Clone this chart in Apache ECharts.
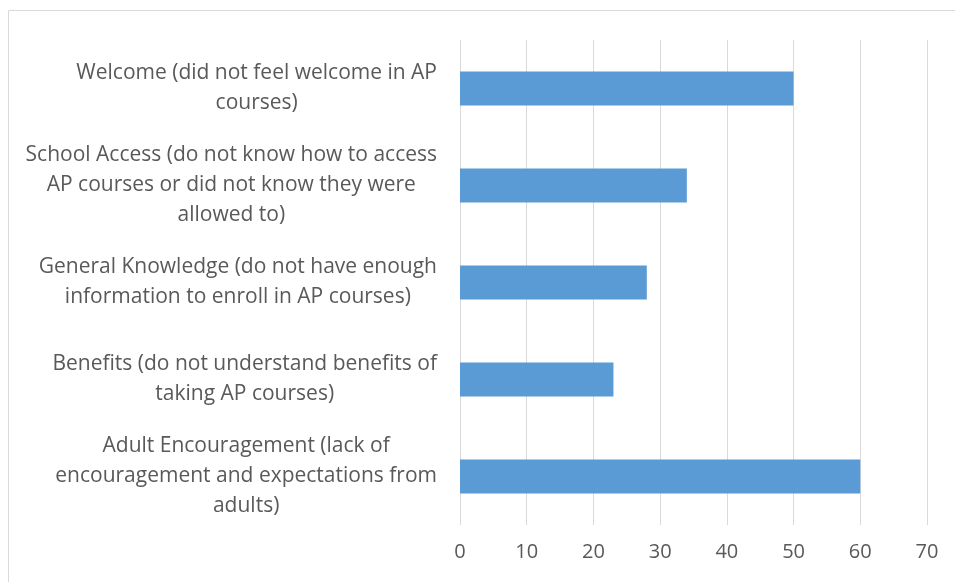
<!DOCTYPE html>
<html>
<head>
<meta charset="utf-8">
<script src="https://cdn.jsdelivr.net/npm/echarts@6/dist/echarts.min.js"></script>
<style>html,body{margin:0;padding:0;background:#fff;}#c{width:955px;height:582px;}</style>
</head>
<body>
<div id="c"></div>
<script>
var categories = [
  "Adult Encouragement (lack of\nencouragement and expectations from\nadults)",
  "Benefits (do not understand benefits of\ntaking AP courses)",
  "General Knowledge (do not have enough\ninformation to enroll in AP courses)",
  "School Access (do not know how to access\nAP courses or did not know they were\nallowed to)",
  "Welcome (did not feel welcome in AP\ncourses)"
];
var values = [60, 23, 28, 34, 50];
var xTicks = [0, 10, 20, 30, 40, 50, 60, 70];

var chart = echarts.init(document.getElementById('c'));
chart.setOption({
  animation: false,
  backgroundColor: '#fff',
  graphic: [{
    type: 'rect',
    shape: {x: 8.5, y: 10.5, width: 1200, height: 800},
    style: {fill: 'none', stroke: '#d9d9d9', lineWidth: 1}
  }],
  grid: {left: 460, right: 28, top: 40, bottom: 57, containLabel: false},
  xAxis: {
    type: 'value',
    min: xTicks[0], max: xTicks[xTicks.length - 1], interval: 10,
    axisLine: {show: false},
    axisTick: {show: false},
    splitLine: {show: true, lineStyle: {color: '#d9d9d9', width: 1}},
    axisLabel: {color: '#595959', fontFamily: 'Open Sans', fontSize: 20, margin: 17}
  },
  yAxis: {
    type: 'category',
    data: categories,
    axisLine: {show: false},
    axisTick: {show: false},
    axisLabel: {
      color: '#595959', fontFamily: 'Open Sans', fontSize: 21,
      align: 'right', margin: 23, lineHeight: 30,
      formatter: function (v) {
        return v.split('\n').map(function (l) { return '{c|' + l + '}'; }).join('\n');
      },
      rich: {c: {align: 'center', color: '#595959', fontFamily: 'Open Sans', fontSize: 21, lineHeight: 30}}
    }
  },
  series: [{
    type: 'bar',
    data: values,
    barWidth: 34,
    itemStyle: {color: '#5b9bd5'}
  }]
});
</script>
</body>
</html>
